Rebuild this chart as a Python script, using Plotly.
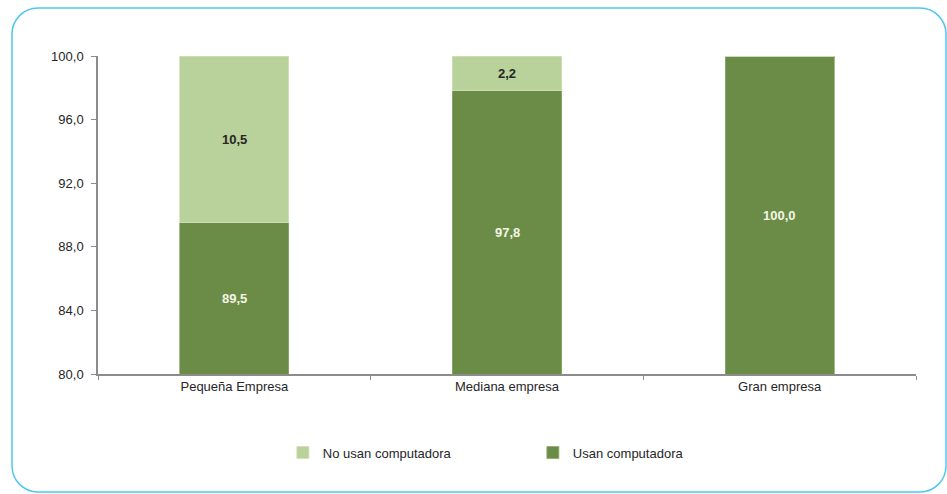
import plotly.graph_objects as go

# Company size categories and share of firms (%)
categorias = ["Pequeña Empresa", "Mediana empresa", "Gran empresa"]
usan = [89.5, 97.8, 100.0]
no_usan = [10.5, 2.2, 0.0]
y_ticks = [80.0, 84.0, 88.0, 92.0, 96.0, 100.0]
y_min, y_max = 80.0, 100.0

W, H = 947, 494
ML, MR, MT, MB = 98, 31, 56, 120
PW, PH = W - ML - MR, H - MT - MB

FONT = "Liberation Sans Narrow, Arial Narrow, Liberation Sans, Arial, sans-serif"
DARK = "#6b8c46"
LIGHT = "#b9d19a"


def fmt(v):
    return f"{v:.1f}".replace(".", ",")


fig = go.Figure()
fig.add_trace(go.Bar(
    x=categorias, y=usan, name="Usan computadora",
    marker=dict(color=DARK, line=dict(color="#8fab6e", width=0.8)),
    width=0.4,
))
fig.add_trace(go.Bar(
    x=categorias, y=no_usan, name="No usan computadora",
    marker=dict(color=LIGHT, line=dict(color="#cfe0b8", width=0.8)),
    width=0.4,
))

# Value labels centred on the visible part of each stacked segment
for cat, u, n in zip(categorias, usan, no_usan):
    lo = max(y_min, 0.0)
    hi = min(y_max, u)
    fig.add_annotation(x=cat, y=(lo + hi) / 2, text=fmt(u), showarrow=False,
                       font=dict(color="#f3f5e6", size=13, family=FONT, weight="bold"))
    if n > 0:
        lo2 = max(y_min, u)
        hi2 = min(y_max, u + n)
        fig.add_annotation(x=cat, y=(lo2 + hi2) / 2, text=fmt(n), showarrow=False,
                           font=dict(color="#262626", size=13, family=FONT, weight="bold"))


# Rounded frame around the chart, built in pixels then mapped to paper coords
def px(x):
    return (x - ML) / PW


def py(y):
    return (H - MB - y) / PH


x0, y0, x1, y1, r = 12, 8, 946, 492, 26
k = 0.45
path = (
    f"M {px(x0 + r)},{py(y0)} L {px(x1 - r)},{py(y0)} "
    f"C {px(x1 - r * k)},{py(y0)} {px(x1)},{py(y0 + r * k)} {px(x1)},{py(y0 + r)} "
    f"L {px(x1)},{py(y1 - r)} "
    f"C {px(x1)},{py(y1 - r * k)} {px(x1 - r * k)},{py(y1)} {px(x1 - r)},{py(y1)} "
    f"L {px(x0 + r)},{py(y1)} "
    f"C {px(x0 + r * k)},{py(y1)} {px(x0)},{py(y1 - r * k)} {px(x0)},{py(y1 - r)} "
    f"L {px(x0)},{py(y0 + r)} "
    f"C {px(x0)},{py(y0 + r * k)} {px(x0 + r * k)},{py(y0)} {px(x0 + r)},{py(y0)} Z"
)
fig.add_shape(type="path", path=path, xref="paper", yref="paper",
              line=dict(color="#4fc6f2", width=1.5), layer="below")

fig.update_layout(
    width=W, height=H,
    margin=dict(l=ML, r=MR, t=MT, b=MB),
    barmode="stack",
    separators=",.",
    plot_bgcolor="white", paper_bgcolor="white",
    font=dict(family=FONT, size=13, color="#262626"),
    showlegend=True,
    legend=dict(
        orientation="h", x=0.226, xanchor="left", y=-0.2, yanchor="top",
        traceorder="reversed", entrywidth=205, entrywidthmode="pixels",
        itemwidth=30, font=dict(size=13, color="#262626"),
    ),
    xaxis=dict(
        showline=True, linecolor="#8c8c8c", linewidth=1.5,
        ticks="outside", tickson="boundaries", ticklen=4, tickcolor="#8c8c8c",
        showgrid=False, tickfont=dict(size=13),
    ),
    yaxis=dict(
        range=[y_min, y_max], tickvals=y_ticks, tickformat=".1f",
        showline=True, linecolor="#8c8c8c", linewidth=1.5,
        ticks="outside", ticklen=5, tickcolor="#8c8c8c", ticklabelstandoff=5,
        showgrid=False, zeroline=False, tickfont=dict(size=13),
    ),
)

fig.write_html("out.html")
